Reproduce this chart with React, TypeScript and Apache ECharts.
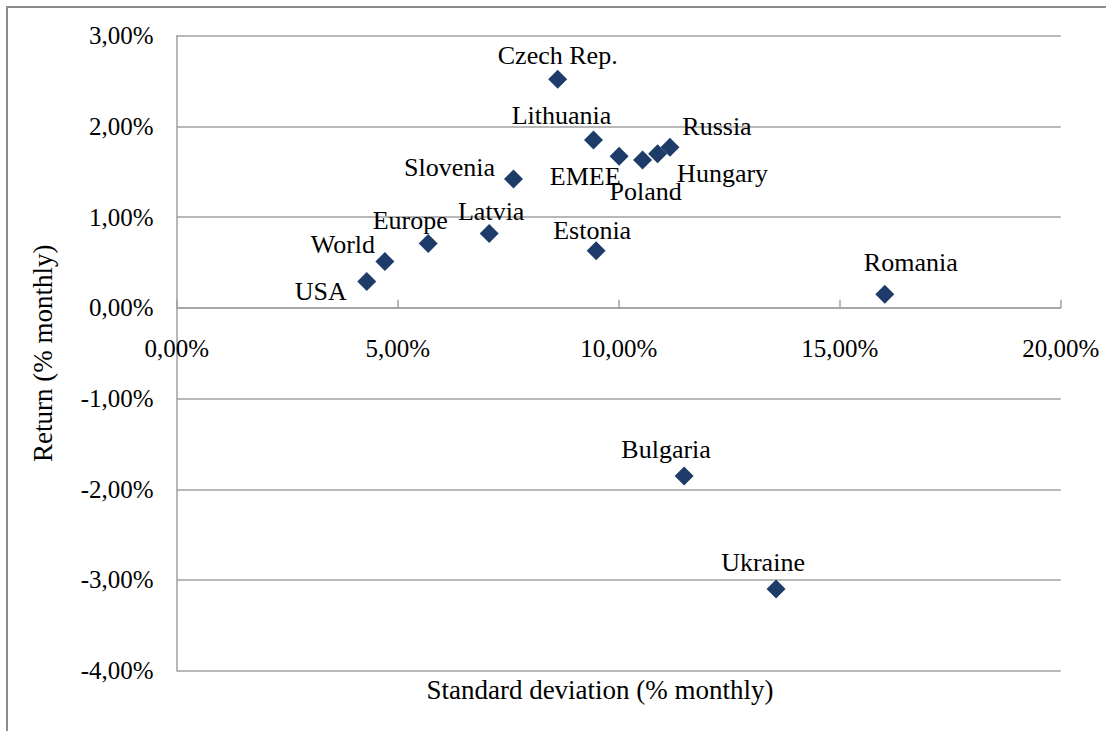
import React, { useEffect, useRef } from "react";
import * as echarts from "echarts";

const countries = [
  "Czech Rep.", "Lithuania", "EMEE", "Poland", "Hungary", "Russia",
  "Slovenia", "Latvia", "Estonia", "Europe", "World", "USA",
  "Romania", "Bulgaria", "Ukraine",
];
const stdDev = [8.62, 9.43, 10.01, 10.54, 10.88, 11.16, 7.62, 7.07, 9.49, 5.69, 4.71, 4.30, 16.02, 11.48, 13.56];
const returns = [2.52, 1.85, 1.67, 1.63, 1.70, 1.77, 1.42, 0.82, 0.63, 0.71, 0.51, 0.29, 0.15, -1.855, -3.10];

const xTicks = { min: 0, max: 20, interval: 5 };
const yTicks = { min: -4, max: 3, interval: 1 };

// label offsets (px) relative to the marker centre
const labelOffsets: Record<string, [number, number]> = {
  "Czech Rep.": [0, -24],
  Lithuania: [-32, -25],
  EMEE: [-34, 20],
  Poland: [3, 32],
  Hungary: [65, 20],
  Russia: [47, -21],
  Slovenia: [-64, -12],
  Latvia: [2, -22],
  Estonia: [-4, -20],
  Europe: [-18, -23],
  World: [-42, -17],
  USA: [-46, 10],
  Romania: [26, -32],
  Bulgaria: [-18, -27],
  Ukraine: [-13, -27],
};

const FONT = "Liberation Serif";
const fmt = (v: number) => v.toFixed(2).replace(".", ",") + "%";

const W = 1106;
const H = 731;
const GRID = { left: 176.7, top: 35.7, right: 45.3, bottom: 60.3 };

export default function App() {
  const ref = useRef<HTMLDivElement>(null);
  useEffect(() => {
    if (!ref.current) return;
    const chart = echarts.init(ref.current, undefined, { renderer: "svg" });
    const data = countries.map((name, i) => ({
      name,
      value: [stdDev[i], returns[i]],
    }));
    // distance from the bottom of the grid to the y = 0 line
    const gridH = H - GRID.top - GRID.bottom;
    const zeroOffset = (gridH * (0 - yTicks.min)) / (yTicks.max - yTicks.min);
    chart.setOption({
      animation: false,
      backgroundColor: "#ffffff",
      grid: { ...GRID, containLabel: false },
      xAxis: {
        type: "value",
        position: "bottom",
        offset: -zeroOffset,
        min: xTicks.min,
        max: xTicks.max,
        interval: xTicks.interval,
        axisLine: { onZero: false, lineStyle: { color: "#a0a0a0", width: 1.5 } },
        axisTick: { show: true, inside: true, length: 8, lineStyle: { color: "#a0a0a0", width: 1.5 } },
        axisLabel: { formatter: fmt, color: "#000", fontFamily: FONT, fontSize: 25, margin: 28 },
        splitLine: { show: false },
      },
      yAxis: {
        type: "value",
        min: yTicks.min,
        max: yTicks.max,
        interval: yTicks.interval,
        name: "Return (% monthly)",
        nameLocation: "middle",
        nameGap: 120,
        nameTextStyle: { color: "#000", fontFamily: FONT, fontSize: 27 },
        axisLine: { show: true, onZero: false, lineStyle: { color: "#a0a0a0", width: 1.5 } },
        axisTick: { show: false },
        axisLabel: { formatter: fmt, color: "#000", fontFamily: FONT, fontSize: 25, margin: 23 },
        splitLine: { show: true, lineStyle: { color: "#a0a0a0", width: 1.5 } },
      },
      series: [
        {
          type: "scatter",
          symbol: "diamond",
          symbolSize: 19,
          itemStyle: { color: "#1d3c6a", opacity: 1 },
          data,
          label: {
            show: true,
            position: "inside",
            formatter: "{b}",
            color: "#000",
            fontFamily: FONT,
            fontSize: 26,
          },
          labelLayout: (params: any) => {
            const off = labelOffsets[countries[params.dataIndex]] || [0, -24];
            return { dx: off[0], dy: off[1], hideOverlap: false };
          },
        },
      ],
      graphic: [
        {
          type: "rect",
          shape: { x: 7, y: 7, width: 1120, height: 740 },
          style: { fill: "none", stroke: "#8c8c8c", lineWidth: 2 },
          silent: true,
        },
        {
          type: "text",
          x: 600,
          y: 690,
          style: {
            text: "Standard deviation (% monthly)",
            fill: "#000",
            fontFamily: FONT,
            fontSize: 27,
            textAlign: "center",
            textVerticalAlign: "middle",
          },
        },
      ],
    });
    return () => chart.dispose();
  }, []);
  return (
    <div
      ref={ref}
      style={{ position: "fixed", left: 0, top: 0, width: W, height: H, background: "#fff" }}
    />
  );
}
